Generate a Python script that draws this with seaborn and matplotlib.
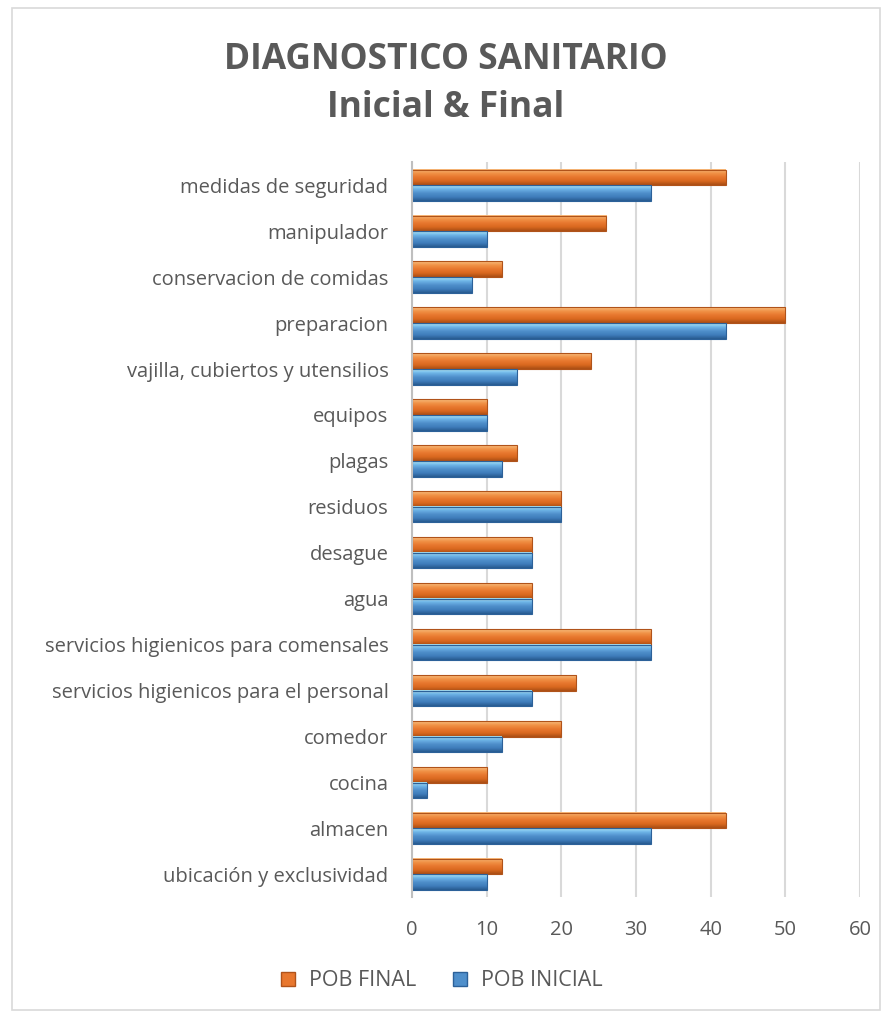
import numpy as np
import pandas as pd
import matplotlib
matplotlib.use('Agg')
import matplotlib.pyplot as plt
from matplotlib.patches import Rectangle
from matplotlib.lines import Line2D
from matplotlib.colors import LinearSegmentedColormap
import seaborn as sns

# datos
categorias = ['medidas de seguridad', 'manipulador', 'conservacion de comidas',
              'preparacion', 'vajilla, cubiertos y utensilios', 'equipos',
              'plagas', 'residuos', 'desague', 'agua',
              'servicios higienicos para comensales',
              'servicios higienicos para el personal', 'comedor', 'cocina',
              'almacen', 'ubicación y exclusividad']
pob_final = [42, 26, 12, 50, 24, 10, 14, 20, 16, 16, 32, 22, 20, 10, 42, 12]
pob_inicial = [32, 10, 8, 42, 14, 10, 12, 20, 16, 16, 32, 16, 12, 2, 32, 10]
series = ['POB FINAL', 'POB INICIAL']
colores = ['#E8772E', '#4F8FCB']
bordes = ['#B0531A', '#2C6199']
ticks_x = [0, 10, 20, 30, 40, 50, 60]

df = pd.DataFrame({
    'categoria': categorias * 2,
    'valor': pob_final + pob_inicial,
    'serie': [series[0]] * len(categorias) + [series[1]] * len(categorias),
})

sns.set_style("white")
plt.rcParams['font.family'] = ['Open Sans', 'DejaVu Sans']
gris = '#595959'

fig = plt.figure(figsize=(8.92, 10.14), dpi=100)
ax = fig.add_axes([0.462, 0.115, 0.502, 0.725])

sns.barplot(data=df, y='categoria', x='valor', hue='serie', orient='h',
            hue_order=series, palette=colores, order=categorias,
            width=0.68, gap=0.0, saturation=1, linewidth=0,
            ax=ax, legend=False)

# degradado tipo "bisel" de Excel sobre cada barra
degradados = [
    LinearSegmentedColormap.from_list('nar', ['#F9BD7F', '#F09247', '#E8772E', '#D9681F', '#A94E14']),
    LinearSegmentedColormap.from_list('azu', ['#A8E6FB', '#6DB3E6', '#4F8FCB', '#3F7DBB', '#275A8F']),
]
grad = np.linspace(0, 1, 64).reshape(-1, 1)
for i, cont in enumerate(ax.containers):
    for b in cont:
        y0 = b.get_y()
        y1 = y0 + b.get_height()
        x0 = b.get_x()
        x1 = x0 + b.get_width()
        ax.imshow(grad, cmap=degradados[i], aspect='auto', origin='upper',
                  extent=(x0, x1, y1, y0), zorder=b.get_zorder() + 0.1,
                  interpolation='bilinear')
        b.set_edgecolor(bordes[i])
        b.set_linewidth(0.8)
        b.set_zorder(b.get_zorder() + 0.2)
        b.set_facecolor('none')

ax.set_xlim(0, 60)
ax.set_ylim(len(categorias) - 0.5, -0.5)
ax.set_xticks(ticks_x)
ax.set_xlabel('')
ax.set_ylabel('')
ax.grid(axis='x', color='#D9D9D9', linewidth=1.5)
ax.set_axisbelow(True)
for s in ['top', 'right', 'bottom']:
    ax.spines[s].set_visible(False)
ax.spines['left'].set_color('#BFBFBF')
ax.spines['left'].set_linewidth(1.5)
ax.tick_params(axis='both', length=0, colors=gris, labelsize=14.5)
ax.tick_params(axis='x', pad=16)
ax.tick_params(axis='y', pad=17)

fig.text(0.50, 0.941, 'DIAGNOSTICO SANITARIO', ha='center', va='center',
         fontsize=25.5, fontweight='bold', color=gris)
fig.text(0.50, 0.893, 'Inicial & Final', ha='center', va='center',
         fontsize=25.5, fontweight='bold', color=gris)

handles = [Line2D([0], [0], marker='s', linestyle='', markersize=10,
                  markerfacecolor=colores[i], markeredgecolor=bordes[i])
           for i in range(2)]
fig.legend(handles, series, loc='center', bbox_to_anchor=(0.487, 0.033), ncol=2,
           frameon=False, fontsize=15.5, handletextpad=0.0, columnspacing=1.0,
           labelcolor=gris)

fig.patches.append(Rectangle((12 / 892, 4 / 1014), 868 / 892, 1002 / 1014,
                             transform=fig.transFigure, fill=False,
                             edgecolor='#D9D9D9', linewidth=1.2))

plt.savefig('out.png', dpi=100)
